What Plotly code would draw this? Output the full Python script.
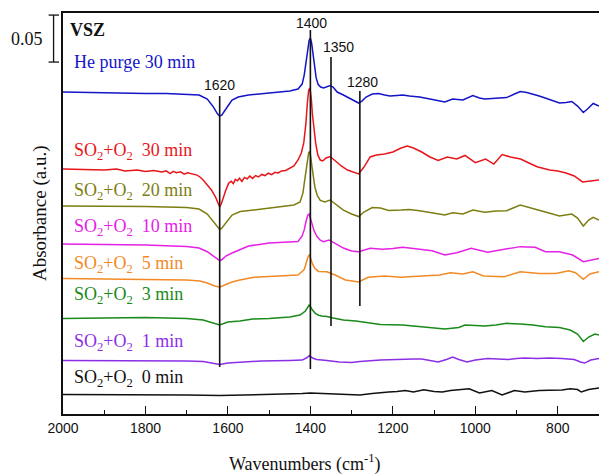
import plotly.graph_objects as go

# ---- spectra: wavenumber (cm-1) and absorbance relative to each trace's own baseline (mAbs)
he30_wn = [2000, 1950, 1900, 1850, 1800, 1750, 1700, 1670, 1650, 1635, 1625, 1620, 1615, 1608,
           1600, 1590, 1575, 1550, 1525, 1500, 1475, 1450, 1430, 1420, 1415, 1411, 1407, 1403,
           1400, 1397, 1394, 1390, 1386, 1381, 1375, 1368, 1360, 1352, 1345, 1335, 1320, 1305,
           1290, 1283, 1275, 1265, 1250, 1235, 1220, 1207, 1190, 1176, 1160, 1135, 1110, 1090,
           1074, 1055, 1030, 1006, 990, 977, 950, 924, 905, 891, 875, 860, 845, 827, 810, 796,
           780, 766, 752, 738, 728, 714, 700]
he30_ab = [0, -0.5, -0.5, -1.1, -1.6, -1.6, -2.1, -3.2, -7.4, -16.0, -23.4, -25.5, -24.5, -20.5,
           -14.9, -8.5, -5.3, -3.2, -2.1, -1.6, 0, 1.1, 3.2, 8.5, 18.0, 32.0, 46.0, 55.0,
           57.5, 52.0, 42.0, 27.0, 15.0, 8.0, 5.3, 4.3, 5.3, 6.9, 5.3, 0, -3.2, -6.4,
           -9.6, -11.7, -9.6, -5.3, -2.1, -1.6, -3.2, -4.3, -3.7, -3.2, -4.3, -5.3, -7.4, -9.6,
           -10.6, -7.4, -8.5, -3.7, -6.4, -7.4, -6.9, -5.9, -2.1, 0.5, -0.5, -2.1, -4.3, -6.9, -9.6, -11.7,
           -11.2, -10.1, -14.9, -21.8, -18.1, -12.2, -14.9]

so30_wn = [2000, 1950, 1900, 1870, 1850, 1820, 1800, 1780, 1760, 1750, 1740, 1733, 1725, 1715,
           1706, 1698, 1690, 1682, 1675, 1668, 1660, 1650, 1640, 1630, 1624, 1620, 1616, 1612,
           1605, 1598, 1592, 1587, 1582, 1577, 1572, 1566, 1560, 1553, 1547, 1540, 1533, 1526,
           1518, 1510, 1502, 1494, 1486, 1478, 1470, 1460, 1450, 1440, 1430, 1422, 1416, 1411,
           1407, 1404, 1401, 1398, 1395, 1391, 1387, 1382, 1376, 1370, 1362, 1352, 1340, 1325,
           1310, 1295, 1283, 1270, 1255, 1240, 1220, 1200, 1180, 1165, 1150, 1130, 1110, 1090,
           1068, 1045, 1025, 1000, 975, 955, 935, 915, 890, 870, 850, 820, 800, 780, 760, 740,
           725, 700]
so30_ab = [0, -0.5, -1.1, 0, -2.1, -1.1, -2.7, -1.6, -3.2, -2.0, -4.8, -2.5, -4.0, -3.0,
           -5.5, -4.0, -5.0, -6.0, -6.5, -8.5, -11.7, -17.0, -22.3, -29.8, -36.0, -40.4, -37.0, -30.9,
           -22.3, -15.0, -13.0, -15.5, -11.0, -12.5, -9.8, -13.2, -9.0, -10.5, -7.5, -10.0, -7.0, -8.5,
           -5.8, -7.0, -4.5, -6.0, -3.5, -4.2, -2.1, -1.6, 1.1, 3.2, 9.6, 17.0, 28.0, 48.0,
           72.0, 84.0, 86.2, 76.0, 58.0, 40.0, 27.0, 15.0, 9.5, 8.5, 11.7, 13.3, 8.5, 3.2,
           -1.1, -3.2, -5.3, 2.1, 12.8, 14.9, 16.0, 18.1, 22.3, 24.5, 22.3, 18.1, 12.8, 9.0,
           12.8, 10.6, 14.4, 6.7, 10.6, 5.3, 15.4, 12.8, 10.6, 6.4, 2.4, -1.1, -2.1, -4.3, -7.4, -13.8,
           -13.3, -11.7]

so20_wn = [2000, 1900, 1800, 1700, 1670, 1650, 1635, 1625, 1620, 1615, 1605, 1590, 1570, 1540,
           1500, 1470, 1440, 1425, 1418, 1413, 1408, 1404, 1401, 1398, 1394, 1389, 1383, 1376,
           1365, 1352, 1340, 1320, 1300, 1283, 1270, 1250, 1230, 1210, 1180, 1160, 1135, 1100,
           1074, 1055, 1030, 1006, 977, 950, 924, 891, 860, 830, 796, 780, 766, 752, 738, 725,
           714, 700]
so20_ab = [0, 0, -0.5, -1.6, -3.2, -8.5, -17.0, -23.0, -25.0, -23.5, -18.1, -9.6, -5.9, -4.3,
           -2.1, -0.5, 1.1, 4.3, 14.0, 30.0, 48.0, 57.0, 58.0, 50.0, 35.0, 20.0, 11.0, 6.0,
           4.3, 6.4, 2.1, -4.3, -8.5, -11.2, -6.4, -1.6, -2.1, -4.8, -4.3, -3.7, -5.0, -7.4,
           -9.6, -7.1, -8.5, -4.3, -6.7, -5.3, -5.0, 1.1, -2.4, -6.4, -10.6, -9.6, -8.5, -12.8, -21.3, -14.9,
           -12.1, -14.9]

so10_wn = [2000, 1900, 1800, 1700, 1670, 1650, 1635, 1625, 1620, 1614, 1605, 1590, 1571, 1550,
           1500, 1450, 1430, 1420, 1415, 1410, 1406, 1403, 1400, 1396, 1391, 1384, 1376, 1368,
           1355, 1340, 1320, 1300, 1283, 1255, 1225, 1200, 1176, 1135, 1105, 1074, 1045, 1010,
           970, 940, 891, 855, 830, 796, 764, 738, 722, 700]
so10_ab = [0, -0.5, -1.1, -2.7, -4.3, -8.2, -12.8, -16.5, -17.7, -16.5, -12.8, -9.6, -6.4, -2.1,
           1.1, 2.1, 2.7, 8.5, 15.0, 25.0, 31.0, 31.9, 28.0, 21.0, 14.0, 8.0, 4.0, 2.4,
           4.3, 0.7, -4.3, -7.4, -8.2, -4.6, -5.6, -4.8, -3.5, -5.6, -7.1, -11.7, -9.3, -4.6,
           -8.8, -6.4, -2.8, -3.5, -8.2, -8.2, -11.7, -18.8, -17.0, -15.3]

so5_wn = [2000, 1900, 1800, 1700, 1668, 1650, 1635, 1620, 1605, 1590, 1571, 1540, 1500, 1460,
          1430, 1415, 1409, 1405, 1402, 1399, 1395, 1389, 1380, 1360, 1340, 1315, 1295, 1283,
          1260, 1220, 1180, 1135, 1087, 1060, 1030, 1006, 980, 930, 891, 845, 805, 773, 757,
          738, 722, 700]
so5_ab = [0, -0.5, -1.1, -1.6, -2.7, -4.8, -7.4, -9.3, -6.4, -3.7, -1.6, 1.1, 2.1, 3.2,
          3.7, 9.6, 18.0, 24.0, 25.0, 21.0, 15.5, 10.5, 7.5, 7.1, 3.7, -1.6, -3.2, -3.7,
          1.3, 2.7, 1.3, 2.1, 3.7, 6.1, 4.8, 7.1, 2.7, 1.9, 7.1, 5.3, 5.3, 8.2, 6.1,
          -0.9, 4.8, 7.1]

so3_wn = [2000, 1900, 1800, 1700, 1660, 1640, 1620, 1600, 1571, 1540, 1500, 1450, 1425, 1412,
          1407, 1403, 1399, 1395, 1388, 1380, 1372, 1360, 1345, 1320, 1290, 1260, 1230, 1176,
          1135, 1100, 1074, 1040, 1025, 1000, 977, 950, 924, 891, 860, 830, 796, 770, 752, 738,
          725, 710, 700]
so3_ab = [0, 0.5, 1.1, 0, -1.6, -4.3, -6.9, -3.7, -2.7, -0.5, 0, 1.6, 3.7, 8.0,
          12.5, 14.4, 12.0, 9.0, 5.5, 3.5, 2.7, 2.1, 0.5, -1.6, -2.7, -4.8, -6.4, -6.9,
          -8.5, -10.6, -11.2, -9.6, -6.9, -7.4, -8.0, -6.9, -5.1, -5.9, -6.9, -8.8, -9.6, -12.2, -16.5, -24.5,
          -19.7, -16.5, -17.6]

so1_wn = [2000, 1900, 1800, 1700, 1660, 1640, 1620, 1600, 1570, 1520, 1450, 1420, 1410, 1402,
          1395, 1385, 1360, 1330, 1300, 1280, 1230, 1200, 1150, 1130, 1110, 1090, 1070, 1055,
          1040, 1020, 1000, 970, 945, 920, 900, 880, 850, 820, 790, 760, 745, 735, 720, 700]
so1_ab = [0, 0, -0.5, -0.5, -1.1, -2.7, -4.3, -2.7, -1.6, -0.5, 0, 0.5, 2.7, 5.3,
          2.7, 1.1, 0, -1.6, -2.1, -1.1, 0.5, 1.1, 1.6, 1.6, 0, -1.6, 1.1, 3.7,
          1.1, -1.6, 0.5, 2.1, 1.6, 1.1, 2.1, 2.7, 2.1, 2.7, 2.1, 1.1, -1.6, -2.7, 0.5, 2.1]

so0_wn = [2000, 1900, 1800, 1700, 1620, 1550, 1480, 1420, 1400, 1370, 1330, 1300, 1280, 1250,
          1230, 1210, 1190, 1170, 1150, 1125, 1100, 1080, 1060, 1035, 1015, 990, 960, 935,
          905, 880, 845, 820, 790, 770, 752, 743, 725, 700]
so0_ab = [0, 0, 0, -0.5, -1.1, -0.5, 0, 1.1, 1.6, 1.1, 0, -0.5, -0.5, 1.1,
          2.1, 2.7, 3.2, 4.3, 2.7, 5.0, 3.2, 2.7, 4.3, 5.3, 6.1, 1.6, 4.3, -0.5,
          4.3, 2.7, 4.3, 4.6, 4.8, 6.1, 5.3, 2.7, 5.3, 7.1]

# ---- stacking offsets (absorbance), legend text and colours, top to bottom
labels = ["He purge 30 min",
          "SO<sub>2</sub>+O<sub>2</sub>\u00a0\u00a030 min",
          "SO<sub>2</sub>+O<sub>2</sub>\u00a0\u00a020 min",
          "SO<sub>2</sub>+O<sub>2</sub>\u00a0\u00a010 min",
          "SO<sub>2</sub>+O<sub>2</sub>\u00a0\u00a05 min",
          "SO<sub>2</sub>+O<sub>2</sub>\u00a0\u00a03 min",
          "SO<sub>2</sub>+O<sub>2</sub>\u00a0\u00a01 min",
          "SO<sub>2</sub>+O<sub>2</sub>\u00a0\u00a00 min"]
offsets = [0.3426, 0.2607, 0.2213, 0.1809, 0.1442, 0.1016, 0.0569, 0.0207]
label_y = [0.3745, 0.2788, 0.2365, 0.1987, 0.1596, 0.1256, 0.0766, 0.0383]
colors = ["#1414c8", "#e8161a", "#7d7d12", "#e620e6", "#f28a26", "#1a8a1a", "#8c2ee6", "#111111"]
spectra = [(he30_wn, he30_ab), (so30_wn, so30_ab), (so20_wn, so20_ab), (so10_wn, so10_ab),
           (so5_wn, so5_ab), (so3_wn, so3_ab), (so1_wn, so1_ab), (so0_wn, so0_ab)]

# ---- band markers: wavenumber, line extent (absorbance), label height
bands = [1620, 1400, 1350, 1280]
band_lines = [(0.0500, 0.3384), (0.0479, 0.4086), (0.0936, 0.3798), (0.1149, 0.3437)]
band_label_y = [0.350, 0.416, 0.391, 0.3536]
band_label_shift = [0, 1, 7, 3]

SERIF = "Liberation Serif, Times New Roman, serif"
SANS = "Liberation Sans, Arial, sans-serif"

fig = go.Figure()
for (wn, ab), off, col in zip(spectra, offsets, colors):
    fig.add_trace(go.Scatter(
        x=wn, y=[off + v / 1000.0 for v in ab], mode="lines",
        line=dict(color=col, width=1.5), showlegend=False, hoverinfo="skip"))

shapes = []
for wn, (y0, y1) in zip(bands, band_lines):
    shapes.append(dict(type="line", xref="x", yref="y", x0=wn, x1=wn, y0=y0, y1=y1,
                       line=dict(color="#111111", width=1.6)))

# 0.05 absorbance scale bar left of the frame
bar_top, bar_len = 0.4245, 0.05
bar_x, cap_l, cap_r = -0.0176, -0.0269, -0.0075
shapes.append(dict(type="line", xref="paper", yref="y", x0=bar_x, x1=bar_x,
                   y0=bar_top - bar_len, y1=bar_top, line=dict(color="#111111", width=1.3)))
for yy in (bar_top, bar_top - bar_len):
    shapes.append(dict(type="line", xref="paper", yref="y", x0=cap_l, x1=cap_r,
                       y0=yy, y1=yy, line=dict(color="#111111", width=1.3)))

annotations = []
for txt, yy, col in zip(labels, label_y, colors):
    annotations.append(dict(text=txt, x=1979, y=yy, xref="x", yref="y", xanchor="left",
                            yanchor="middle", showarrow=False,
                            font=dict(family=SERIF, size=18, color=col)))
for wn, yy, sh in zip(bands, band_label_y, band_label_shift):
    annotations.append(dict(text=str(wn), x=wn, y=yy, xref="x", yref="y", xshift=sh,
                            xanchor="center", yanchor="middle", showarrow=False,
                            font=dict(family=SANS, size=14, color="#111111")))
annotations.append(dict(text="<b>VSZ</b>", x=1989, y=0.4086, xref="x", yref="y",
                        xanchor="left", yanchor="middle", showarrow=False,
                        font=dict(family=SERIF, size=18, color="#111111")))
annotations.append(dict(text="0.05", x=-0.034, y=bar_top - bar_len / 2, xref="paper", yref="y",
                        xanchor="right", yanchor="middle", showarrow=False,
                        font=dict(family=SERIF, size=18, color="#111111")))
annotations.append(dict(text="Absorbance (a.u.)", x=-0.0437, y=0.5, xref="paper", yref="paper",
                        textangle=-90, xanchor="center", yanchor="middle", showarrow=False,
                        font=dict(family=SERIF, size=19, color="#111111")))
annotations.append(dict(text="Wavenumbers (cm<sup>-1</sup>)", x=0.451, y=-0.122,
                        xref="paper", yref="paper", xanchor="center", yanchor="middle",
                        showarrow=False, font=dict(family=SERIF, size=18, color="#111111")))

fig.update_layout(
    width=599, height=474,
    margin=dict(l=63, r=0, t=13, b=60),
    paper_bgcolor="white", plot_bgcolor="white",
    shapes=shapes, annotations=annotations,
    xaxis=dict(range=[2000, 700], tickmode="array", tickvals=[2000, 1800, 1600, 1400, 1200, 1000, 800],
               ticks="inside", ticklen=8, tickwidth=1.3, tickcolor="#111111",
               minor=dict(tickmode="array", tickvals=[1900, 1700, 1500, 1300, 1100, 900, 700],
                          ticks="inside", ticklen=4, tickwidth=1.3, tickcolor="#111111"),
               showline=True, linecolor="#111111", linewidth=1.6, mirror=True,
               showgrid=False, zeroline=False,
               tickfont=dict(family=SANS, size=14, color="#111111")),
    yaxis=dict(range=[0, 0.4267], showticklabels=False, ticks="", showgrid=False,
               zeroline=False, showline=True, linecolor="#111111", linewidth=1.6, mirror=False),
)

fig.write_html("out.html")
